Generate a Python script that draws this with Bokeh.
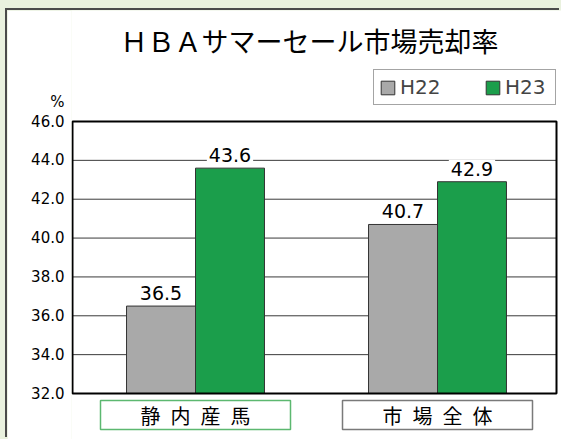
from bokeh.plotting import figure
from bokeh.layouts import column
from bokeh.models import (ColumnDataSource, FactorRange, Range1d, Legend, LegendItem,
                          FixedTicker, PrintfTickFormatter)
from bokeh.transform import dodge
from bokeh.embed import file_html
from bokeh.resources import INLINE
from bokeh.core.properties import value

# ---- data ----
title_text = "ＨＢＡサマーセール市場売却率"
categories = ["静内産馬", "市場全体"]
cat_labels = ["静\u2002内\u2002産\u2002馬", "市\u2002場\u2002全\u2002体"]
series = ["H22", "H23"]
h22 = [36.5, 40.7]
h23 = [43.6, 42.9]
yticks = [32.0, 34.0, 36.0, 38.0, 40.0, 42.0, 44.0, 46.0]
unit_label = "%"

# ---- styles / layout constants ----
GRAY = "#a9a9a9"
GREEN = "#1b9e4b"
box_colors = ["#5cb870", "#7a7a7a"]
NUMFONT = value("DejaVu Sans")
JPFONT = value("Noto Sans CJK JP")
UNIT_Y = 47.0   # where the "%" unit sits on the value axis

# page-pixel helpers (synthetic x 0..2 -> page x 74..558; y 46 -> 121, 32 -> 393)
PX_PER_UNIT = (393 - 121) / (yticks[-1] - yticks[0])
def ypx(page_y):
    return yticks[-1] - (page_y - 121) / PX_PER_UNIT
def xpx(page_x):
    return (page_x - 74) / 242.0

src = ColumnDataSource(dict(cat=categories, lab=cat_labels, h22=h22, h23=h23,
                            t22=[f"{v:.1f}" for v in h22], t23=[f"{v:.1f}" for v in h23],
                            bc=box_colors))

x_range = FactorRange(factors=categories, range_padding=3 / 242.0,
                      range_padding_units="absolute")
y_range = Range1d(ypx(439), ypx(10))

p = figure(width=554, height=429, x_range=x_range, y_range=y_range,
           output_backend="svg", toolbar_location=None,
           min_border_left=64, min_border_right=0, min_border_top=0, min_border_bottom=0,
           background_fill_color="white", border_fill_color="white",
           outline_line_color=None, margin=(10, 0, 0, 7),
           styles={"box-shadow": "-2px -2px 0 0 #4a4a4a"})

p.xaxis.visible = False
p.xgrid.visible = False
p.ygrid.visible = False

p.yaxis.ticker = FixedTicker(ticks=yticks + [UNIT_Y])
p.yaxis.formatter = PrintfTickFormatter(format="%.1f")
p.yaxis.major_label_overrides = {UNIT_Y: unit_label}
p.yaxis.axis_line_color = None
p.yaxis.major_tick_line_color = None
p.yaxis.minor_tick_line_color = None
p.yaxis.major_tick_out = 0
p.yaxis.major_label_standoff = 7
p.yaxis.major_label_text_font = "DejaVu Sans"
p.yaxis.major_label_text_font_size = "15px"
p.yaxis.major_label_text_color = "black"

XL, XR = xpx(72), xpx(556)   # plot-area edges

# gridlines (inner ticks only)
p.segment(x0=XL, x1=XR, y0=yticks[1:-1], y1=yticks[1:-1], line_color="#3a3a3a", line_width=1)

BW = 0.285
r22 = p.vbar(x=dodge("cat", -BW / 2, range=p.x_range), top="h22", bottom=yticks[0], width=BW,
             source=src, fill_color=GRAY, line_color="#333333", line_width=1)
r23 = p.vbar(x=dodge("cat", BW / 2, range=p.x_range), top="h23", bottom=yticks[0], width=BW,
             source=src, fill_color=GREEN, line_color="#333333", line_width=1)

# plot-area border
p.quad(left=XL, right=XR, bottom=yticks[0], top=yticks[-1], fill_color=None,
       line_color="black", line_width=2)

# value labels
for fld, tf, off in (("h22", "t22", -BW / 2), ("h23", "t23", BW / 2)):
    p.text(x=dodge("cat", off, range=p.x_range), y=fld, text=tf, source=src,
           text_align="center", text_baseline="bottom", y_offset=-4,
           text_font=NUMFONT, text_font_size="19px", text_color="black",
           background_fill_color="white", padding=2)

# category label boxes
yb = ypx(414.5)
p.rect(x="cat", y=yb, width=190, height=29, width_units="screen", height_units="screen",
       source=src, fill_color="white", line_color="bc", line_width=1.5)
p.text(x="cat", y=yb, text="lab", source=src, text_align="center", text_baseline="middle",
       text_font=JPFONT, text_font_size="20px", text_color="black")

# title
p.text(x=[xpx(309)], y=[ypx(40)], text=[title_text], text_align="center",
       text_baseline="middle", text_font=JPFONT, text_font_size="27px", text_color="black")

legend = Legend(items=[LegendItem(label=series[0], renderers=[r22]),
                       LegendItem(label=series[1], renderers=[r23])],
                orientation="horizontal", location=(302, 334), margin=0,
                padding=5, spacing=39, glyph_width=17, glyph_height=17,
                label_standoff=4, label_width=45, label_text_font="DejaVu Sans",
                label_text_font_size="20px", label_height=20,
                border_line_color="#4a4a4a", border_line_width=1.5,
                background_fill_alpha=1.0)
p.add_layout(legend)

page = column(p, width=561, height=439, styles={"background-color": "#e9f1de"})
open("out.html", "w").write(file_html(page, INLINE))
